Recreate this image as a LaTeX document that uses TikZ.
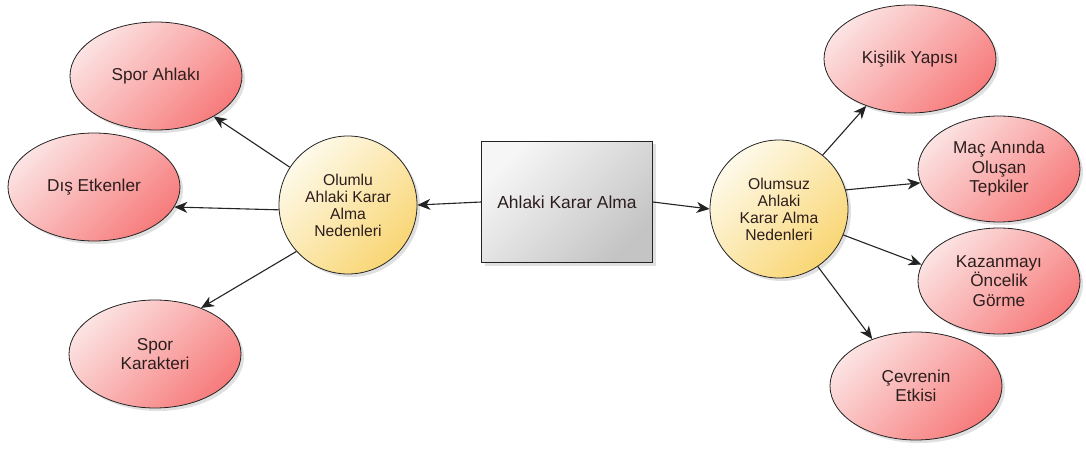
\documentclass[tikz,border=0pt]{standalone}
\usepackage{fontspec}
\setmainfont{Liberation Sans}
\usetikzlibrary{shapes.geometric,arrows.meta,shadows}
\definecolor{pinkL}{RGB}{252,226,226}
\definecolor{pinkD}{RGB}{247,124,124}
\definecolor{yelL}{RGB}{254,250,234}
\definecolor{yelD}{RGB}{249,214,116}
\definecolor{grayL}{RGB}{246,246,246}
\definecolor{grayD}{RGB}{196,196,196}
\definecolor{txt}{RGB}{45,30,30}
\definecolor{edge}{RGB}{35,35,35}
\tikzset{
  shadowed/.style={drop shadow={shadow xshift=3pt,shadow yshift=-3pt,fill=black,opacity=0.12}},
  oval/.style={ellipse, draw=edge, line width=0.8pt, top color=pinkL, bottom color=pinkD, shading angle=45,
    minimum width=172pt, minimum height=108pt, inner sep=0pt, align=center, text=txt,
    font=\fontsize{17.2}{19.5}\selectfont, shadowed},
  cause/.style={circle, draw=edge, line width=0.8pt, top color=yelL, bottom color=yelD, shading angle=45,
    minimum size=138pt, inner sep=0pt, align=center, text=txt,
    font=\fontsize{15.7}{17}\selectfont, shadowed},
  mainbox/.style={rectangle, draw=edge, line width=0.8pt, top color=grayL, bottom color=grayD, shading angle=45,
    minimum width=171pt, minimum height=121pt, inner sep=0pt, text=txt,
    font=\fontsize{17.4}{19.5}\selectfont, shadowed},
  link/.style={draw=edge, line width=1.1pt, -{Stealth[length=13pt,width=11pt,inset=4pt]}}
}
\begin{document}
\begin{tikzpicture}[x=1pt,y=-1pt]
\useasboundingbox (0,0) rectangle (1086,465);
% central
\node[mainbox] (box) at (567,202) {Ahlaki Karar Alma};
\node[cause] (olumlu) at (348,205) {Olumlu\\Ahlaki Karar\\Alma\\Nedenleri};
\node[cause] (olumsuz) at (779,209) {Olumsuz\\Ahlaki\\Karar Alma\\Nedenleri};
% left
\node[oval] (spor) at (156,76) {Spor Ahlakı};
\node[oval] (dis) at (94,187) {Dış Etkenler};
\node[oval] (karakter) at (155,354) {Spor\\Karakteri};
% right
\node[oval] (kisilik) at (910,59) {Kişilik Yapısı};
\node[oval, minimum width=162pt, minimum height=106pt] (mac) at (999,169) {Maç Anında\\Oluşan\\Tepkiler};
\node[oval, minimum width=162pt, minimum height=106pt] (kazan) at (999,281) {Kazanmayı\\Öncelik\\Görme};
\node[oval] (cevre) at (916,386) {Çevrenin\\Etkisi};
% connectors
\draw[link] (box.west) -- (olumlu.east);
\draw[link] (box.east) -- (olumsuz.west);
\draw[link] (olumlu.147) -- (spor.-35);
\draw[link] (olumlu.184) -- (dis.-14);
\draw[link] (olumlu.222) -- (karakter.45);
\draw[link] (olumsuz.51) -- (kisilik.227);
\draw[link] (olumsuz.16) -- (mac.190);
\draw[link] (olumsuz.-22) -- (kazan.168);
\draw[link] (olumsuz.-56) -- (cevre.133);
\end{tikzpicture}
\end{document}
